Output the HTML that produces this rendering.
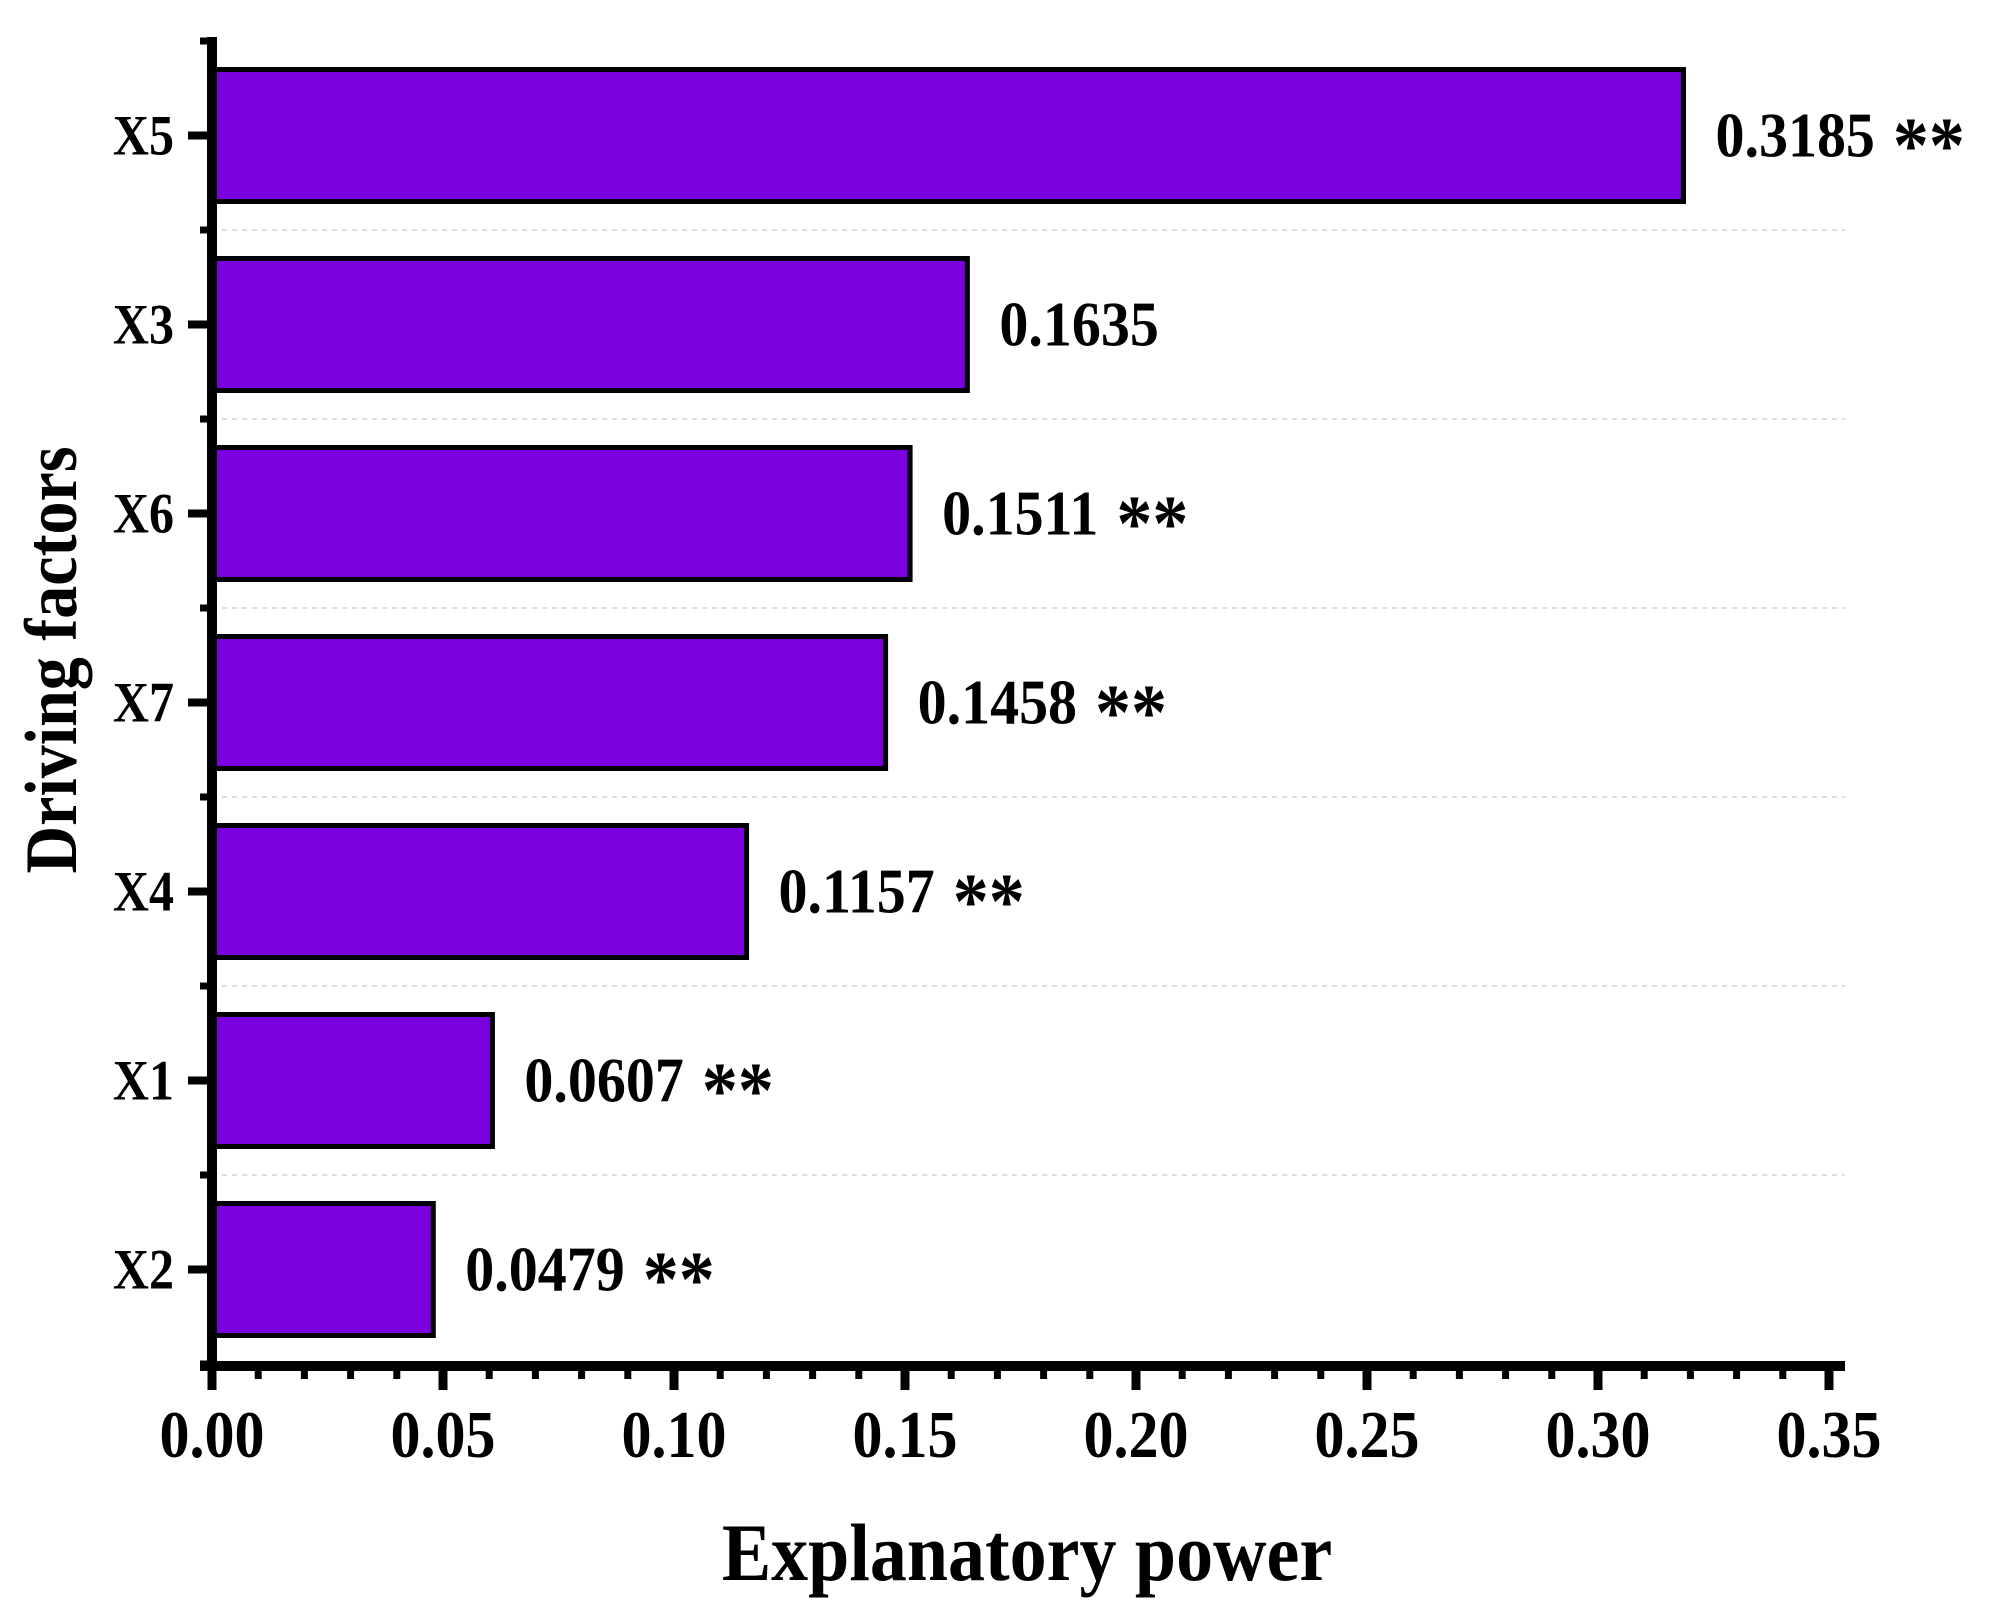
<!DOCTYPE html>
<html><head><meta charset="utf-8"><style>
body{margin:0;background:#fff}
svg text{font-family:"Liberation Serif",serif;font-weight:bold;fill:#000}
</style></head><body>
<svg id="chart" width="1998" height="1616" xmlns="http://www.w3.org/2000/svg"></svg>
<script>
const categories=["X5","X3","X6","X7","X4","X1","X2"];
const values=[0.3185,0.1635,0.1511,0.1458,0.1157,0.0607,0.0479];
const valueLabels=["0.3185","0.1635","0.1511","0.1458","0.1157","0.0607","0.0479"];
const significance=["**","","**","**","**","**","**"];
const xTicks=[0,0.05,0.10,0.15,0.20,0.25,0.30,0.35];
const xTickLabels=["0.00","0.05","0.10","0.15","0.20","0.25","0.30","0.35"];
const svg=document.getElementById('chart');
const NS="http://www.w3.org/2000/svg";
const x0=212,xScale=231/0.05,top0=41,pitch=189,barH=132,axisY=1366,xEnd=1845;
const xs=v=>x0+v*xScale;
const yc=i=>top0+pitch*(i+0.5);
function mk(t,a,p){const e=document.createElementNS(NS,t);for(const k in a)e.setAttribute(k,a[k]);(p||svg).appendChild(e);return e;}
function stxt(x,y,size,anchor,sx,sy){return mk('text',{x:0,y:0,'font-size':size,'text-anchor':anchor,transform:`translate(${x},${y}) scale(${sx},${sy})`});}
for(let i=1;i<categories.length;i++){
  const g=mk('line',{x1:x0,x2:xEnd,y1:top0+pitch*i,y2:top0+pitch*i,stroke:'#ddd','stroke-width':2,'stroke-dasharray':'5,5'});
  
  
}
categories.forEach((c,i)=>{
  const r=mk('rect',{x:x0,y:yc(i)-barH/2,width:xs(values[i])-x0,height:barH,fill:'#7b00e0',stroke:'#000','stroke-width':5});
  
  
  const t=stxt(xs(values[i])+32,yc(i)+21,58,'start',1,1.1);
  t.textContent=valueLabels[i];
  if(significance[i]){const s=document.createElementNS(NS,'tspan');s.setAttribute('font-size',72);s.setAttribute('dy',14);s.textContent=' '+significance[i];t.appendChild(s);}
  
  
  const l=stxt(174,yc(i)+19,50,'end',1,1.15);
  l.textContent=c;
  
  
  mk('line',{x1:188,x2:x0,y1:yc(i),y2:yc(i),stroke:'#000','stroke-width':8});
});
for(let i=0;i<=categories.length;i++){mk('line',{x1:200,x2:x0,y1:top0+pitch*i,y2:top0+pitch*i,stroke:'#000','stroke-width':7});}
const ya=mk('line',{x1:x0,x2:x0,y1:37,y2:axisY+5,stroke:'#000','stroke-width':10});

const xa=mk('line',{x1:x0-12,x2:xEnd,y1:axisY,y2:axisY,stroke:'#000','stroke-width':10});

for(let k=0;k<=35;k++){
  const v=k*0.01;const major=k%5===0;
  mk('line',{x1:xs(v),x2:xs(v),y1:axisY,y2:axisY+(major?24:13),stroke:'#000','stroke-width':major?9:7});
}
xTicks.forEach((v,i)=>{
  const t=stxt(xs(v),1457,60,'middle',1,1.12);
  t.textContent=xTickLabels[i];
  
  
});
const xt=stxt(1027,1580,74,'middle',1,1.1);
xt.textContent="Explanatory power";

const yt=mk('text',{x:0,y:0,'font-size':66,'text-anchor':'middle',transform:'translate(76,660) rotate(-90) scale(1,1.12)'});
yt.textContent="Driving factors";

</script>
</body></html>
